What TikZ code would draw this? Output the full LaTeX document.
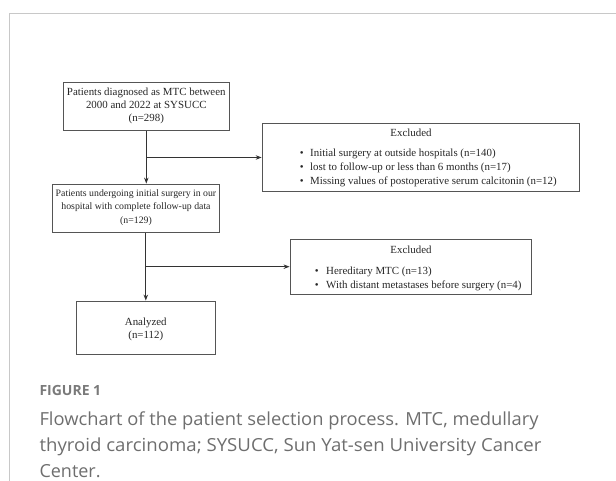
\documentclass[tikz,border=0pt]{standalone}
\usepackage{fontspec}
\usepackage{graphicx}
\setmainfont{Liberation Serif}
\newfontfamily\capfont{Open Sans}
\usetikzlibrary{arrows.meta}
\definecolor{framegray}{HTML}{C8C8C8}
\definecolor{boxline}{HTML}{555555}
\definecolor{capgray}{HTML}{6E6E6E}
\definecolor{figgray}{HTML}{7A7A7A}
\tikzset{
  boxnode/.style={draw=boxline, line width=0.9pt, inner sep=0pt},
  txt/.style={inner sep=0pt, font=\fontsize{10.9}{13}\selectfont, text=black!85},
  txttwo/.style={inner sep=0pt, font=\fontsize{9.8}{13.5}\selectfont, text=black!85},
  conn/.style={draw=black!80, line width=0.8pt},
  arr/.style={conn, -{Stealth[length=6pt,width=4.5pt]}},
  captxt/.style={inner sep=0pt, anchor=base west, font=\capfont\fontsize{18}{21}\selectfont, text=capgray},
}
\begin{document}
\begin{tikzpicture}[x=1pt,y=-1pt]
\useasboundingbox (0,0) rectangle (616,481);
% outer frame
\draw[framegray, line width=1pt] (9.5,481) -- (9.5,13.7) -- (616,13.7);

% main boxes
\node[boxnode, minimum width=166pt, minimum height=48pt] (b1) at (146.3,106.3) {};
\node[txt, align=center] (t1) at (b1.center) {Patients diagnosed as MTC between\\2000 and 2022 at SYSUCC\\(n=298)};

\node[boxnode, minimum width=166.5pt, minimum height=48.7pt] (b2) at (136,208.4) {};
\node[txttwo, align=center] (t2) at ([yshift=1pt]b2.center) {Patients undergoing initial surgery in our\\hospital with complete follow-up data\\(n=129)};

\node[boxnode, minimum width=138.3pt, minimum height=53.6pt] (b3) at (145.8,327.8) {};
\node[txt, align=center] (t3) at ([yshift=-1.5pt]b3.center) {Analyzed\\(n=112)};

% excluded box A
\node[boxnode, minimum width=317pt, minimum height=68.5pt] (ea) at (420.6,157.5) {};
\node[txt, anchor=mid] (eah) at (411,134) {Excluded};
\node[txt, anchor=mid] (ea1b) at (301.7,154.5) {•};
\node[txt, anchor=mid west] (ea1) at (310,154.5) {Initial surgery at outside hospitals (n=140)};
\node[txt, anchor=mid] (ea2b) at (301.7,168.5) {•};
\node[txt, anchor=mid west] (ea2) at (310,168.5) {lost to follow-up or less than 6 months (n=17)};
\node[txt, anchor=mid] (ea3b) at (301.7,182) {•};
\node[txt, anchor=mid west] (ea3) at (310,182) {Missing values of postoperative serum calcitonin (n=12)};

% excluded box B
\node[boxnode, minimum width=241pt, minimum height=55pt] (eb) at (410.5,266.7) {};
\node[txt, anchor=mid] (ebh) at (411,251) {Excluded};
\node[txt, anchor=mid] (eb1b) at (316.7,272.5) {•};
\node[txt, anchor=mid west] (eb1) at (326,272.5) {Hereditary MTC (n=13)};
\node[txt, anchor=mid] (eb2b) at (316.7,286) {•};
\node[txt, anchor=mid west] (eb2) at (326,286) {With distant metastases before surgery (n=4)};

% connectors
\coordinate (j1) at (b1.south |- ea.west);
\coordinate (j2) at (b3.north |- eb.west);
\draw[arr] (b1.south) -- (b1.south |- b2.north);
\draw[arr] (j1) -- (ea.west);
\draw[arr] (b3.north |- b2.south) -- (b3.north);
\draw[arr] (j2) -- (eb.west);

% caption
\node[inner sep=0pt, anchor=base west, font=\capfont\bfseries\fontsize{14}{16}\selectfont, text=figgray] (fig) at (39.3,395.4) {FIGURE 1};
\node[captxt] (c1) at (39.3,425.3) {\resizebox{499pt}{\height}{Flowchart of the patient selection process. MTC, medullary}};
\node[captxt] (c2) at (39.3,451) {\resizebox{502pt}{\height}{thyroid carcinoma; SYSUCC, Sun Yat-sen University Cancer}};
\node[captxt] (c3) at (39.3,477) {Center.};
\end{tikzpicture}
\end{document}
